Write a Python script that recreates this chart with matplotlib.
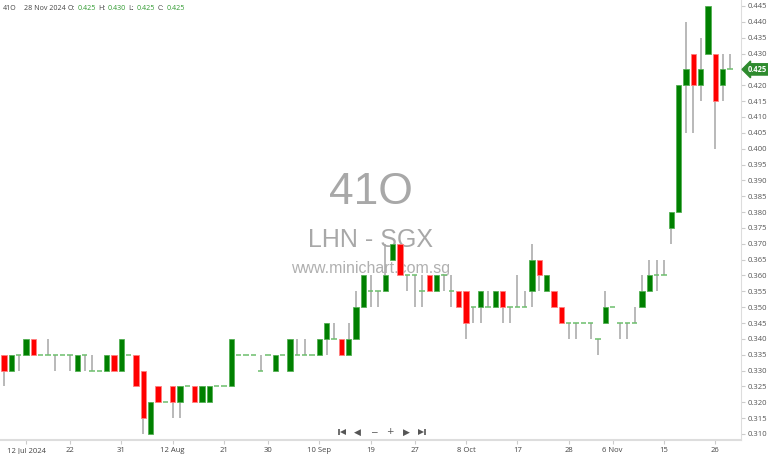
import matplotlib
matplotlib.use("Agg")
import matplotlib.pyplot as plt
from matplotlib.lines import Line2D
import numpy as np

# OHLC for 41O (LHN - SGX), one bar per trading day, 9 Jul - 28 Nov 2024
opens = [0.335, 0.330, 0.335, 0.335, 0.340, 0.335, 0.335, 0.335, 0.335, 0.335,
         0.330, 0.335, 0.330, 0.330, 0.330, 0.335, 0.330, 0.335, 0.335, 0.330,
         0.310, 0.325, 0.320, 0.325, 0.320, 0.325, 0.325, 0.320, 0.320, 0.325,
         0.325, 0.325, 0.335, 0.335, 0.335, 0.330, 0.335, 0.330, 0.335, 0.330,
         0.335, 0.335, 0.335, 0.335, 0.340, 0.340, 0.340, 0.335, 0.340, 0.350,
         0.355, 0.355, 0.355, 0.365, 0.370, 0.360, 0.360, 0.355, 0.360, 0.355,
         0.360, 0.355, 0.355, 0.355, 0.350, 0.350, 0.350, 0.350, 0.355, 0.350,
         0.350, 0.350, 0.355, 0.365, 0.355, 0.355, 0.350, 0.345, 0.345, 0.345,
         0.345, 0.340, 0.345, 0.350, 0.345, 0.345, 0.345, 0.350, 0.355, 0.360,
         0.360, 0.375, 0.380, 0.420, 0.430, 0.420, 0.430, 0.430, 0.420, 0.425]
highs = [0.335, 0.335, 0.335, 0.340, 0.340, 0.335, 0.340, 0.335, 0.335, 0.335,
         0.335, 0.335, 0.335, 0.330, 0.335, 0.335, 0.340, 0.335, 0.335, 0.330,
         0.320, 0.325, 0.320, 0.325, 0.325, 0.325, 0.325, 0.325, 0.325, 0.325,
         0.325, 0.340, 0.335, 0.335, 0.335, 0.335, 0.335, 0.335, 0.335, 0.340,
         0.340, 0.340, 0.335, 0.340, 0.345, 0.345, 0.340, 0.345, 0.355, 0.360,
         0.360, 0.355, 0.370, 0.370, 0.370, 0.360, 0.360, 0.360, 0.360, 0.360,
         0.360, 0.360, 0.355, 0.355, 0.350, 0.355, 0.355, 0.355, 0.355, 0.350,
         0.360, 0.355, 0.370, 0.365, 0.360, 0.355, 0.350, 0.345, 0.345, 0.345,
         0.345, 0.340, 0.355, 0.350, 0.345, 0.345, 0.350, 0.360, 0.365, 0.365,
         0.365, 0.380, 0.420, 0.440, 0.430, 0.435, 0.445, 0.430, 0.430, 0.430]
lows = [0.325, 0.330, 0.330, 0.335, 0.335, 0.335, 0.335, 0.330, 0.335, 0.330,
        0.330, 0.330, 0.330, 0.330, 0.330, 0.330, 0.330, 0.335, 0.325, 0.310,
        0.310, 0.320, 0.320, 0.315, 0.315, 0.325, 0.320, 0.320, 0.320, 0.325,
        0.325, 0.325, 0.335, 0.335, 0.335, 0.330, 0.335, 0.330, 0.335, 0.330,
        0.335, 0.335, 0.335, 0.335, 0.335, 0.340, 0.335, 0.335, 0.340, 0.350,
        0.350, 0.350, 0.355, 0.365, 0.360, 0.355, 0.350, 0.350, 0.355, 0.355,
        0.355, 0.350, 0.350, 0.340, 0.345, 0.345, 0.350, 0.350, 0.345, 0.345,
        0.350, 0.350, 0.350, 0.355, 0.355, 0.350, 0.345, 0.340, 0.340, 0.345,
        0.340, 0.335, 0.345, 0.350, 0.340, 0.340, 0.345, 0.350, 0.355, 0.355,
        0.360, 0.370, 0.380, 0.405, 0.405, 0.415, 0.430, 0.400, 0.415, 0.425]
closes = [0.330, 0.335, 0.335, 0.340, 0.335, 0.335, 0.335, 0.335, 0.335, 0.335,
          0.335, 0.335, 0.330, 0.330, 0.335, 0.330, 0.340, 0.335, 0.325, 0.315,
          0.320, 0.320, 0.320, 0.320, 0.325, 0.325, 0.320, 0.325, 0.325, 0.325,
          0.325, 0.340, 0.335, 0.335, 0.335, 0.330, 0.335, 0.335, 0.335, 0.340,
          0.335, 0.335, 0.335, 0.340, 0.345, 0.340, 0.335, 0.340, 0.350, 0.360,
          0.355, 0.355, 0.360, 0.370, 0.360, 0.360, 0.360, 0.355, 0.355, 0.360,
          0.360, 0.355, 0.350, 0.345, 0.350, 0.355, 0.350, 0.355, 0.350, 0.350,
          0.350, 0.350, 0.365, 0.360, 0.360, 0.350, 0.345, 0.345, 0.345, 0.345,
          0.345, 0.340, 0.350, 0.350, 0.345, 0.345, 0.345, 0.355, 0.360, 0.360,
          0.360, 0.380, 0.420, 0.425, 0.420, 0.425, 0.445, 0.415, 0.425, 0.425]

tick_bars = [3, 9, 16, 23, 30, 36, 43, 50, 56, 63, 70, 77, 83, 90, 97]
tick_labels = ["12 Jul 2024", "22", "31", "12 Aug", "21", "30", "10 Sep", "19",
               "27", "8 Oct", "17", "28", "6 Nov", "15", "26"]

GREEN = "#008000"
RED = "#ff0000"
WICK = "#a6a6a6"

o = np.array(opens)
h = np.array(highs)
l = np.array(lows)
c = np.array(closes)
x = np.arange(len(o))
last = closes[-1]

fig = plt.figure(figsize=(7.68, 4.54), dpi=100)
ax = fig.add_axes([0, 14 / 454, 741 / 768, 440 / 454])

ax.vlines(x, l, h, color=WICK, lw=1.1, zorder=1)

up = c > o
down = c < o
flat = c == o
w = 0.74
ax.bar(x[up], c[up] - o[up], bottom=o[up], width=w, color=GREEN,
       edgecolor="#55b055", lw=0.6, zorder=2)
ax.bar(x[down], o[down] - c[down], bottom=c[down], width=w, color=RED,
       edgecolor="#ff8080", lw=0.6, zorder=2)
ax.hlines(c[flat], x[flat] - w / 2, x[flat] + w / 2, color="#6cbf6c", lw=1.1, zorder=2)

ax.set_xlim(-0.55, 100.5)
ax.set_ylim(0.445 - 434 / 3170, 0.445 + 6 / 3170)

ax.yaxis.tick_right()
ax.set_yticks(np.arange(0.310, 0.4451, 0.005))
# the last-price flag covers its own tick label
ax.yaxis.set_major_formatter(
    plt.FuncFormatter(lambda v, p: "" if abs(v - last) < 1e-6 else f"{v:.3f}"))
ax.tick_params(axis="y", labelsize=5.5, labelcolor="#555555", color="#cccccc",
               length=3, pad=2)
ax.set_xticks(tick_bars)
ax.set_xticklabels(tick_labels)
ax.tick_params(axis="x", labelsize=5.5, labelcolor="#444444", color="#cccccc",
               length=3, pad=2)
for lab in ax.get_xticklabels() + ax.get_yticklabels():
    lab.set_fontfamily("Open Sans")

for side in ["top", "left"]:
    ax.spines[side].set_visible(False)
ax.spines["right"].set_color("#dddddd")
ax.spines["bottom"].set_color("#dddddd")
ax.spines["bottom"].set_linewidth(1.5)

# last price marker
ax.annotate(f"{last:.3f}", xy=(1.0, last), xycoords=("axes fraction", "data"),
            xytext=(12, 0), textcoords="offset points", ha="center", va="center",
            fontsize=5.5, color="white", fontweight="bold", fontfamily="Open Sans",
            bbox=dict(boxstyle="larrow,pad=0.15", fc="#2e8b2e", ec="#2e8b2e"),
            zorder=5, annotation_clip=False)

# watermark
ax.text(0.5, 0.563, "41O", transform=ax.transAxes, ha="center", va="center",
        fontsize=32, color="#a8a8a8", fontfamily="Liberation Sans", zorder=0)
ax.text(0.5, 0.455, "LHN - SGX", transform=ax.transAxes, ha="center", va="center",
        fontsize=18, color="#a8a8a8", fontfamily="Liberation Sans", zorder=0)
ax.text(0.5, 0.389, "www.minichart.com.sg", transform=ax.transAxes, ha="center",
        va="center", fontsize=11.5, color="#b0b0b0", fontfamily="Liberation Sans",
        zorder=0)

# header, laid out left to right from measured text widths
hdr = [("41O", "#444444", 7), ("28 Nov 2024", "#444444", 2), ("O:", "#444444", 3),
       (f"{opens[-1]:.3f}", "#2e9a2e", 2), ("H:", "#444444", 3),
       (f"{highs[-1]:.3f}", "#2e9a2e", 2), ("L:", "#444444", 3),
       (f"{lows[-1]:.3f}", "#2e9a2e", 2), ("C:", "#444444", 3),
       (f"{last:.3f}", "#2e9a2e", 0)]
renderer = fig.canvas.get_renderer()
px = 3
for txt, col, gap in hdr:
    t = fig.text(px / 768, 1 - 9 / 454, txt, ha="left", va="center", fontsize=5.1,
                 color=col, fontfamily="Open Sans")
    px += t.get_window_extent(renderer).width + gap

# navigation buttons (first/last icons have no installed glyph, drawn as shapes)
ny = 1 - 432 / 454
for sym, bx in [("◀", 357), ("−", 374), ("+", 390), ("▶", 406)]:
    fig.text(bx / 768, ny, sym, ha="center", va="center", fontsize=6.5,
             color="#555555", fontfamily=["DejaVu Sans"])
for bar_px, tri_px, mk in [(339, 343, "<"), (425, 421, ">")]:
    fig.add_artist(Line2D([bar_px / 768], [ny], marker="|", ms=5, mew=1.2,
                          color="#555555", transform=fig.transFigure))
    fig.add_artist(Line2D([tri_px / 768], [ny], marker=mk, ms=4.5, mew=0,
                          color="#555555", transform=fig.transFigure))

fig.savefig("out.png", dpi=100)
